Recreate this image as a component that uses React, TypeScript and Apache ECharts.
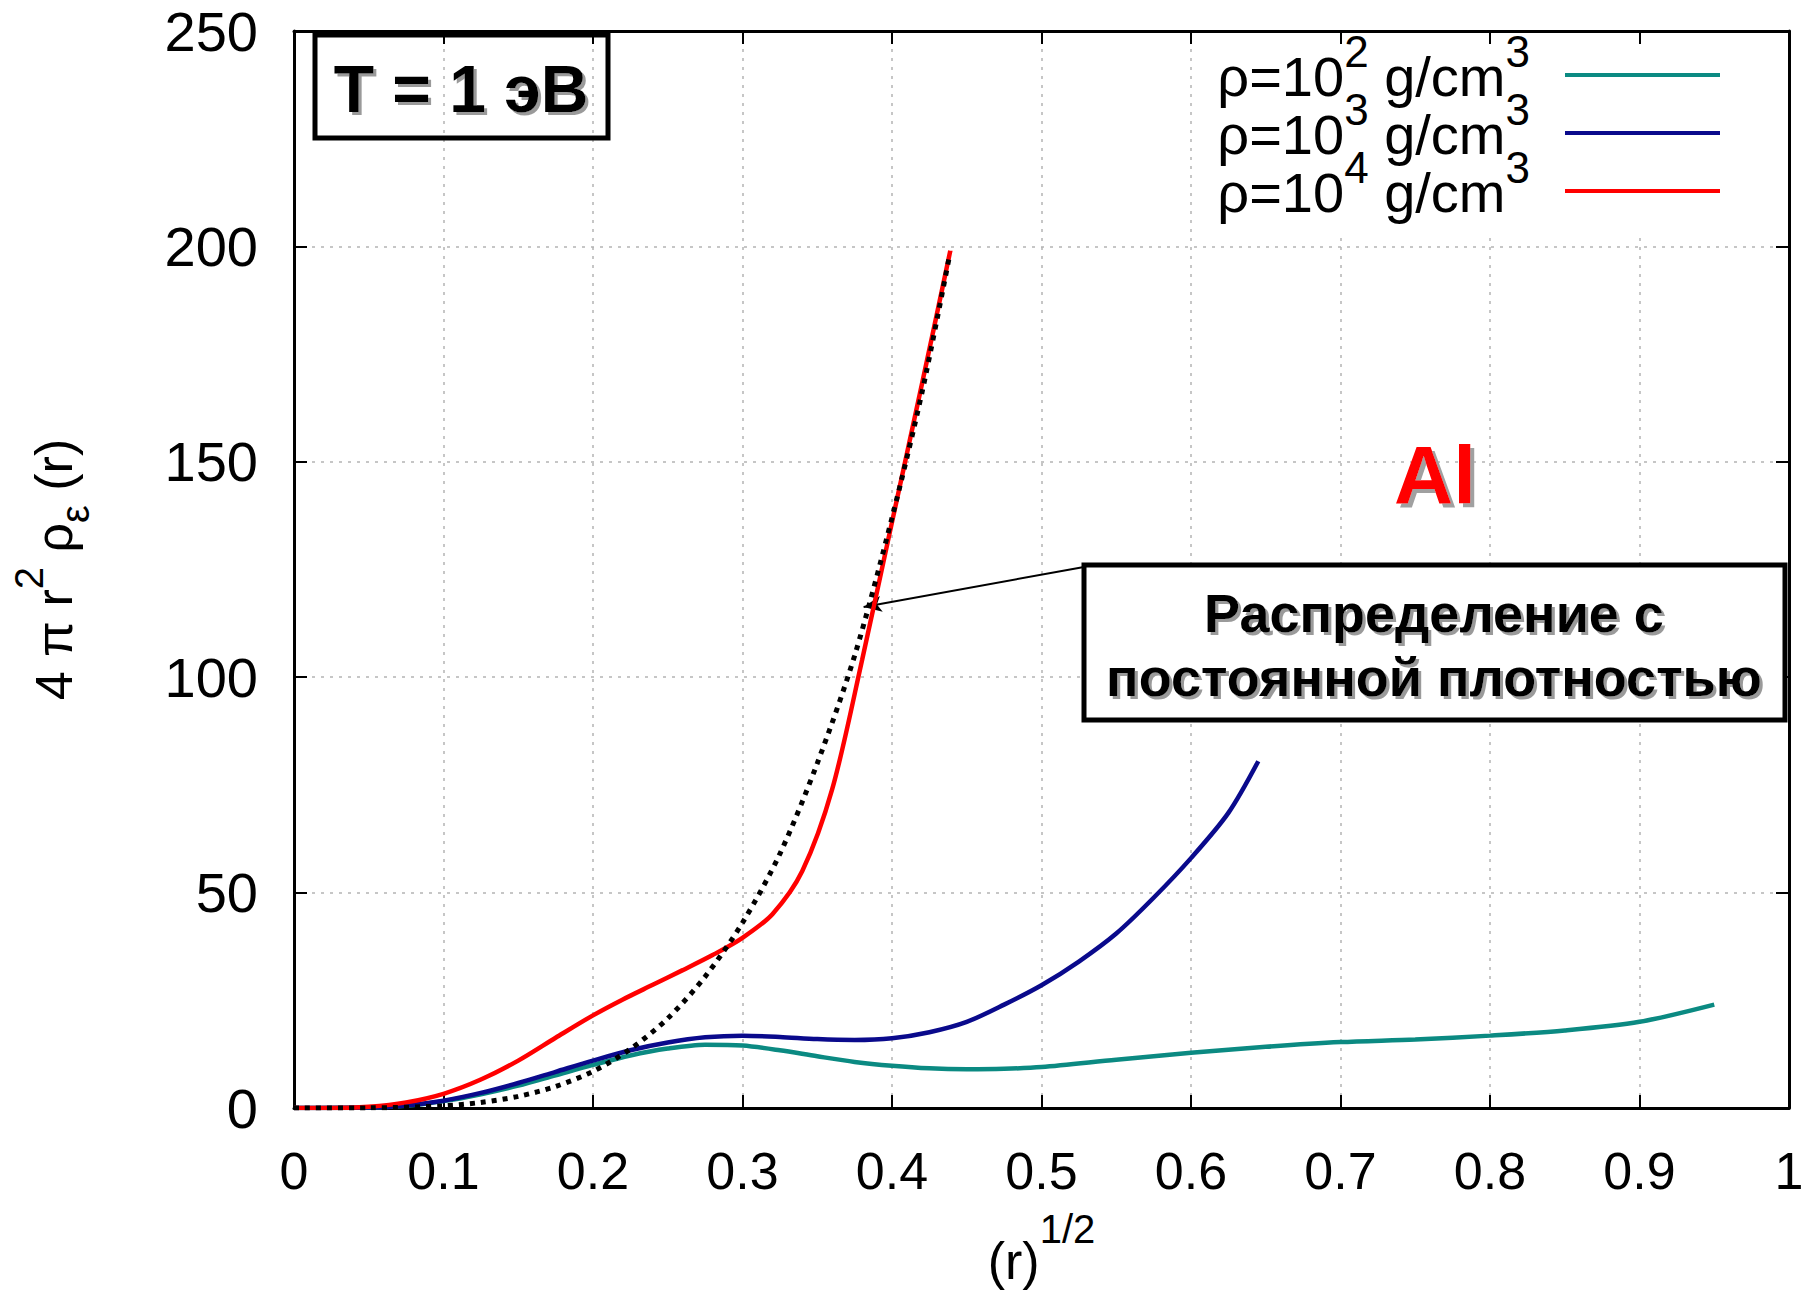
import React, { useEffect, useRef } from "react";
import * as echarts from "echarts";

// ---- data ----
const TEAL_X = [0, 0.05, 0.075, 0.1, 0.125, 0.15, 0.175, 0.2, 0.225, 0.25, 0.275, 0.3, 0.325, 0.35, 0.375, 0.4, 0.425, 0.45, 0.475, 0.5, 0.55, 0.6, 0.65, 0.7, 0.75, 0.8, 0.85, 0.9, 0.95];
const TEAL_Y = [0, 0.1, 0.5, 1.6, 3.2, 5.2, 7.6, 10, 12.2, 13.8, 14.7, 14.5, 13.4, 12.0, 10.7, 9.8, 9.2, 9.0, 9.1, 9.5, 11.2, 12.8, 14.2, 15.3, 15.9, 16.8, 18.0, 20.0, 24.0];

const BLUE_X = [0, 0.05, 0.075, 0.1, 0.125, 0.15, 0.175, 0.2, 0.225, 0.25, 0.275, 0.3, 0.325, 0.35, 0.375, 0.4, 0.425, 0.45, 0.475, 0.5, 0.525, 0.55, 0.575, 0.6, 0.625, 0.645];
const BLUE_Y = [0, 0.1, 0.6, 1.7, 3.5, 5.8, 8.4, 11.0, 13.4, 15.2, 16.4, 16.8, 16.5, 16.0, 15.8, 16.2, 17.6, 20.0, 24.0, 28.5, 34.0, 40.5, 48.8, 58.0, 68.5, 80.5];

const RED_X = [0, 0.025, 0.05, 0.075, 0.1, 0.125, 0.15, 0.175, 0.2, 0.22, 0.24, 0.26, 0.28, 0.3, 0.32, 0.34, 0.36, 0.38, 0.4, 0.42, 0.439];
const RED_Y = [0, 0, 0.3, 1.3, 3.3, 6.6, 11.0, 16.3, 21.5, 25.2, 28.6, 32.0, 35.5, 39.5, 45.0, 55.0, 74.0, 104.0, 136.0, 168.0, 199.0];

const DOT_X = [0, 0.05, 0.1, 0.125, 0.15, 0.175, 0.2, 0.225, 0.25, 0.275, 0.3, 0.325, 0.35, 0.375, 0.4, 0.42, 0.438];
const DOT_Y = [0, 0.03, 0.5, 1.3, 2.7, 5.0, 8.5, 13.7, 20.8, 30.5, 43, 59, 80, 105, 137, 166, 197];

const SERIES_NAMES = ["ρ=10^2 g/cm^3", "ρ=10^3 g/cm^3", "ρ=10^4 g/cm^3"];
const LEGEND_EXP = ["2", "3", "4"];
const COLORS = ["#0b8a82", "#0a0a8c", "#ff0000"];

const X_MIN = 0, X_MAX = 1, X_STEP = 0.1;
const Y_MIN = 0, Y_MAX = 250, Y_STEP = 50;

const ARROW_FROM = [0.5284, 125.6];
const ARROW_TO = [0.381, 116.3];

const FONT = '"Liberation Sans", Arial, Helvetica, sans-serif';

function pairs(xs: number[], ys: number[]) {
  return xs.map((x, i) => [x, ys[i]]);
}

export default function App() {
  const ref = useRef<HTMLDivElement>(null);
  useEffect(() => {
    if (!ref.current) return;
    const chart = echarts.init(ref.current, null, { renderer: "svg" });

    const gridLine = { show: true, lineStyle: { color: "#b4b4b4", width: 1.5, type: [3, 6] as any } };
    const frameLine = { show: true, onZero: false, lineStyle: { color: "#000", width: 3 } };
    const tick = { show: true, inside: true, length: 13, lineStyle: { color: "#000", width: 2 } };

    const lineSeries = (idx: number, xs: number[], ys: number[]) => ({
      name: SERIES_NAMES[idx],
      type: "line",
      data: pairs(xs, ys),
      showSymbol: false,
      symbol: "none",
      smooth: 0.3,
      lineStyle: { color: COLORS[idx], width: 4.5 },
      itemStyle: { color: COLORS[idx] },
      z: 3 + idx,
    });

    const option: any = {
      animation: false,
      backgroundColor: "#fff",
      grid: { left: 294, top: 31, width: 1495, height: 1077, containLabel: false, outerBoundsMode: "none" },
      xAxis: [
        {
          type: "value", min: X_MIN, max: X_MAX, interval: X_STEP, position: "bottom",
          axisLine: frameLine, axisTick: tick, splitLine: gridLine,
          axisLabel: { fontFamily: FONT, fontSize: 52, color: "#000", margin: 37, formatter: (v: number) => String(Math.round(v * 10) / 10) },
          name: "{m|(r)}{s|1/2}",
          nameLocation: "middle",
          nameGap: 123,
          nameTextStyle: {
            fontFamily: FONT, color: "#000",
            rich: {
              m: { fontFamily: FONT, fontSize: 52, lineHeight: 60, verticalAlign: "middle", color: "#000" },
              s: { fontFamily: FONT, fontSize: 40, lineHeight: 60, verticalAlign: "middle", padding: [0, 0, 64, 0], color: "#000" },
            },
          },
        },
        {
          type: "value", min: X_MIN, max: X_MAX, interval: X_STEP, position: "top",
          axisLine: frameLine, axisTick: tick, splitLine: { show: false }, axisLabel: { show: false }, z: 10,
        },
      ],
      yAxis: [
        {
          type: "value", min: Y_MIN, max: Y_MAX, interval: Y_STEP, position: "left",
          axisLine: frameLine, axisTick: tick, splitLine: gridLine,
          axisLabel: { fontFamily: FONT, fontSize: 56, color: "#000", margin: 36 },
          name: "{m|4 π r}{s|2}{m| ρ}{b|ε}{m| (r)}",
          nameLocation: "middle",
          nameRotate: 90,
          nameGap: 210,
          nameTextStyle: {
            fontFamily: FONT, color: "#000",
            rich: {
              m: { fontFamily: FONT, fontSize: 52, lineHeight: 60, verticalAlign: "middle", color: "#000" },
              s: { fontFamily: FONT, fontSize: 40, lineHeight: 60, verticalAlign: "middle", padding: [0, 0, 50, 0], color: "#000" },
              b: { fontFamily: FONT, fontSize: 40, lineHeight: 60, verticalAlign: "middle", padding: [42, 0, 0, 0], color: "#000" },
            },
          },
        },
        {
          type: "value", min: Y_MIN, max: Y_MAX, interval: Y_STEP, position: "right",
          axisLine: frameLine, axisTick: tick, splitLine: { show: false }, axisLabel: { show: false }, z: 10,
        },
      ],
      legend: {
        data: SERIES_NAMES,
        orient: "vertical",
        align: "right",
        right: 94,
        top: 29,
        padding: [0, 0, 0, 12],
        itemGap: -34,
        itemWidth: 155,
        itemHeight: 4,
        icon: "rect",
        backgroundColor: "#fff",
        formatter: (name: string) => {
          const i = SERIES_NAMES.indexOf(name);
          return `{m|ρ=10}{s|${LEGEND_EXP[i]}}{m| g/cm}{e|3}`;
        },
        textStyle: {
          fontFamily: FONT, color: "#000",
          rich: {
            m: { fontFamily: FONT, fontSize: 56, lineHeight: 58, verticalAlign: "middle", padding: [3, 0, 0, 0], color: "#000" },
            s: { fontFamily: FONT, fontSize: 44, lineHeight: 58, verticalAlign: "middle", padding: [0, 0, 48, 0], color: "#000" },
            e: { fontFamily: FONT, fontSize: 44, lineHeight: 58, verticalAlign: "middle", padding: [0, 30, 48, 0], color: "#000" },
          },
        },
      },
      series: [
        lineSeries(0, TEAL_X, TEAL_Y),
        lineSeries(1, BLUE_X, BLUE_Y),
        lineSeries(2, RED_X, RED_Y),
        {
          name: "const",
          type: "line",
          data: pairs(DOT_X, DOT_Y),
          showSymbol: false,
          symbol: "none",
          smooth: 0.3,
          lineStyle: { color: "#000", width: 5, type: [5, 6], cap: "butt" },
          z: 8,
          markLine: {
            silent: true,
            symbol: ["none", "arrow"],
            symbolSize: [12, 18],
            label: { show: false },
            lineStyle: { color: "#000", width: 2, type: "solid" },
            data: [[{ coord: ARROW_FROM }, { coord: ARROW_TO }]],
          },
        },
      ],
      graphic: [
        {
          type: "rect", z: 20,
          shape: { x: 315, y: 35, width: 293, height: 103 },
          style: { fill: "none", stroke: "#000", lineWidth: 5 },
        },
        {
          type: "text", z: 21,
          style: {
            text: "T = 1 эВ", x: 461, y: 89, align: "center", verticalAlign: "middle",
            fontFamily: FONT, fontSize: 66, fontWeight: "bold", fill: "#000",
            textShadowColor: "#9a9a9a", textShadowOffsetX: 3, textShadowOffsetY: 3, textShadowBlur: 1,
            shadowColor: "#9a9a9a", shadowOffsetX: 3, shadowOffsetY: 3, shadowBlur: 1,
          },
        },
        {
          type: "rect", z: 20,
          shape: { x: 1084, y: 565, width: 701, height: 155 },
          style: { fill: "#fff", stroke: "#000", lineWidth: 5 },
        },
        {
          type: "text", z: 21,
          style: {
            text: "Распределение с\nпостоянной плотностью", x: 1434, y: 645, align: "center", verticalAlign: "middle",
            fontFamily: FONT, fontSize: 54, fontWeight: "bold", lineHeight: 64, fill: "#000",
            textShadowColor: "#9a9a9a", textShadowOffsetX: 3, textShadowOffsetY: 3, textShadowBlur: 1,
            shadowColor: "#9a9a9a", shadowOffsetX: 3, shadowOffsetY: 3, shadowBlur: 1,
          },
        },
        {
          type: "text", z: 21,
          style: {
            text: "Al", x: 1435, y: 474, align: "center", verticalAlign: "middle",
            fontFamily: FONT, fontSize: 82, fontWeight: "bold", fill: "#ff0000",
            textShadowColor: "#a0a0a0", textShadowOffsetX: 4, textShadowOffsetY: 4, textShadowBlur: 1,
            shadowColor: "#a0a0a0", shadowOffsetX: 4, shadowOffsetY: 4, shadowBlur: 1,
          },
        },
      ],
    };

    chart.setOption(option);
    return () => chart.dispose();
  }, []);

  return (
    <div
      ref={ref}
      style={{ position: "fixed", left: 0, top: 0, width: 1814, height: 1291, background: "#fff" }}
    />
  );
}
